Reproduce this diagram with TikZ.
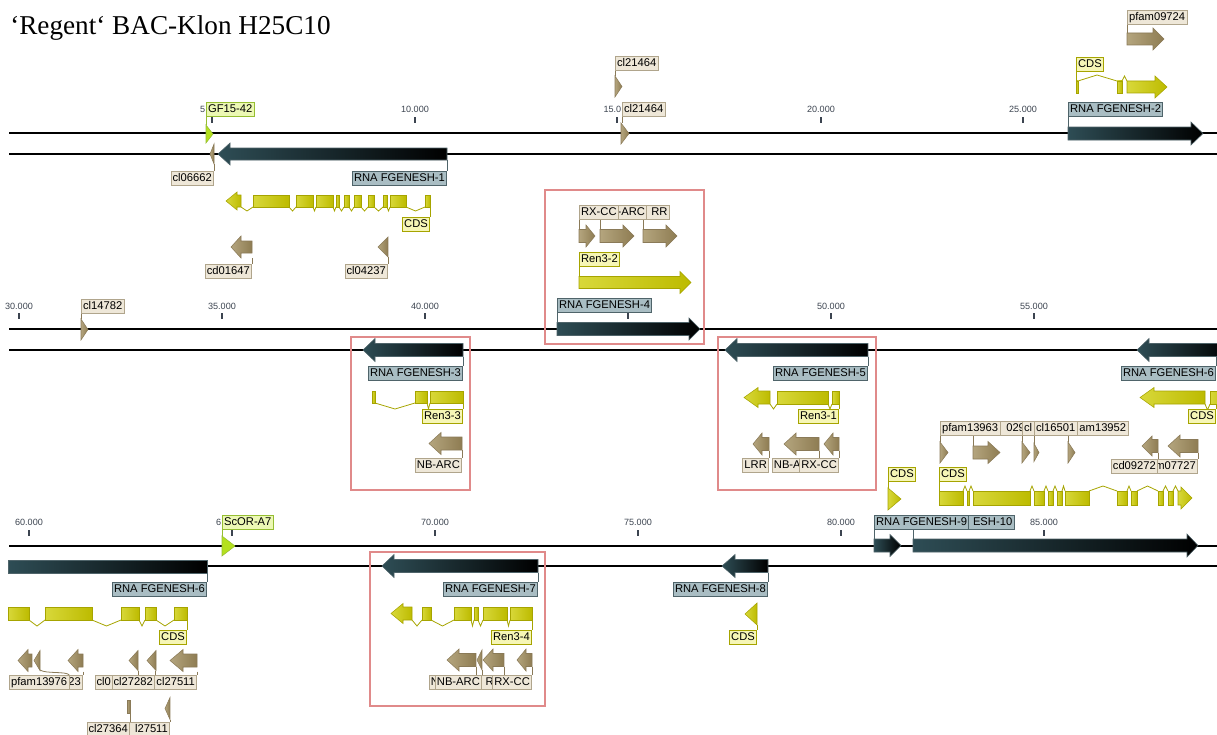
\documentclass[tikz,border=0pt]{standalone}
\usepackage{fontspec}
\setmainfont{Liberation Serif}
\setsansfont{Liberation Sans}

\definecolor{genedark}{HTML}{2E4D55}
\definecolor{genebox}{HTML}{A9BDC3}
\definecolor{geneedge}{HTML}{4F646A}
\definecolor{cdslight}{HTML}{D8D83A}
\definecolor{cdsdark}{HTML}{BDBB00}
\definecolor{cdsedge}{HTML}{A6A400}
\definecolor{cdsbox}{HTML}{F6F6B6}
\definecolor{domlight}{HTML}{B4A57E}
\definecolor{domdark}{HTML}{8E7C52}
\definecolor{domedge}{HTML}{8A7A58}
\definecolor{dombox}{HTML}{EEE7D8}
\definecolor{domboxedge}{HTML}{B0A58C}
\definecolor{primfill}{HTML}{B4E01E}
\definecolor{primbox}{HTML}{ECF8B4}
\definecolor{primedge}{HTML}{96BE32}
\definecolor{hilite}{HTML}{E08A8A}
\definecolor{ticktext}{HTML}{3C4450}

% arrows: style, x1, x2, yc, body half, head half, head length
\newcommand{\arrF}[7]{\path[#1] (#2,#4-#5) -- (#3-#7,#4-#5) -- (#3-#7,#4-#6) -- (#3,#4) -- (#3-#7,#4+#6) -- (#3-#7,#4+#5) -- (#2,#4+#5) -- cycle;}
\newcommand{\arrR}[7]{\path[#1] (#3,#4-#5) -- (#2+#7,#4-#5) -- (#2+#7,#4-#6) -- (#2,#4) -- (#2+#7,#4+#6) -- (#2+#7,#4+#5) -- (#3,#4+#5) -- cycle;}
\newcommand{\triF}[5]{\path[#1] (#2,#4-#5) -- (#3,#4) -- (#2,#4+#5) -- cycle;}
\newcommand{\triR}[5]{\path[#1] (#3,#4-#5) -- (#2,#4) -- (#3,#4+#5) -- cycle;}
% labels: kind, name, x, y of feature, y of label, text
\newcommand{\labR}[6]{\coordinate (#2f) at (#3,#4);
  \node[#1lab, anchor=north east] (#2) at (#3,#5) {#6};
  \draw[#1line] (#2f) -- (#2.north east);}
\newcommand{\labF}[6]{\coordinate (#2f) at (#3,#4);
  \node[#1lab, anchor=south west] (#2) at (#3,#5) {#6};
  \draw[#1line] (#2f) -- (#2.south west);}

\begin{document}
\begin{tikzpicture}[x=0.75pt,y=-0.75pt,
  gene/.style={left color=genedark, right color=black, draw=geneedge, line width=0.4pt},
  cds/.style={left color=cdslight, right color=cdsdark, draw=cdsedge, line width=0.4pt},
  dom/.style={left color=domlight, right color=domdark, draw=domedge, line width=0.4pt},
  prim/.style={fill=primfill, draw=primedge, line width=0.4pt},
  intron/.style={draw=cdsedge, line width=0.6pt},
  lab/.style={font=\sffamily\fontsize{8.4}{9}\selectfont, inner xsep=1.3pt, inner ysep=1.2pt,
    text height=6.4pt, text depth=1.7pt, line width=0.6pt},
  glab/.style={lab, fill=genebox, draw=geneedge},
  clab/.style={lab, fill=cdsbox, draw=cdsedge},
  dlab/.style={lab, fill=dombox, draw=domboxedge},
  plab/.style={lab, fill=primbox, draw=primedge},
  gline/.style={draw=geneedge, line width=0.6pt},
  cline/.style={draw=cdsedge, line width=0.6pt},
  dline/.style={draw=domedge, line width=0.6pt},
  pline/.style={draw=primedge, line width=0.6pt},
  strand/.style={line width=1.5pt},
  tick/.style={draw=ticktext, line width=0.8pt},
  ticklab/.style={font=\sffamily\fontsize{6.8}{7}\selectfont, text=ticktext, inner sep=0pt},
  hbox/.style={draw=hilite, line width=0.8pt}]
\useasboundingbox (0,0) rectangle (1217,735);
\clip (0,0) rectangle (1217,735);

\node[font=\fontsize{20.4}{24}\selectfont, anchor=base west, inner sep=0pt] (title) at (10,35) {‘Regent‘ BAC-Klon H25C10};

% strands and scale
\foreach \y in {133,154,329,350,546,566}
  \draw[strand] (9,\y) -- (1217,\y);
\foreach \x in {212,415,617,821,1023}
  \draw[tick] (\x,117) -- (\x,123);
\foreach \x in {19,222,425,628,831,1034}
  \draw[tick] (\x,313) -- (\x,319);
\foreach \x in {29,232,435,638,841,1044}
  \draw[tick] (\x,530) -- (\x,536);
\foreach \x/\t/\y in {415/10.000/109, 821/20.000/109, 1023/25.000/109,
    19/30.000/306, 222/35.000/306, 425/40.000/306, 831/50.000/306, 1034/55.000/306,
    29/60.000/522, 435/70.000/522, 638/75.000/522, 841/80.000/522, 1044/85.000/522}
  \node[ticklab] at (\x,\y) {\t};
\node[ticklab, anchor=east] (t5) at (205.5,109) {5};
\node[ticklab, anchor=east] (t15) at (621.5,109) {15.0};
\node[ticklab, anchor=east] (t65) at (221.5,522) {6};

% ---- row 1
\triF{prim}{206}{213}{134}{9}
\triR{dom}{210}{214}{154}{10}
\arrR{gene}{218}{447}{154}{6}{11}{12}
\arrR{cds}{226}{241}{201}{6}{9}{11}
\foreach \a/\b in {253/289, 296/313, 316/333, 336/339, 344/349, 354/361, 368/374, 383/387, 390/406, 425/430}
  \path[cds] (\a,195) rectangle (\b,207);
\foreach \a/\b in {241/253, 289/296, 313/316, 333/336, 339/344, 349/354, 361/368, 374/383, 387/390, 406/425}
  \draw[intron] (\a,207) -- ({(\a+\b)/2},211) -- (\b,207);
\arrR{dom}{231}{252}{247}{6}{11}{10}
\triR{dom}{378}{388}{247}{10}
\triF{dom}{615}{622}{86.5}{10.5}
\triF{dom}{621}{629}{133.5}{10.5}
\arrF{dom}{579}{595}{236}{6.5}{11}{9}
\arrF{dom}{600}{634}{236}{6.5}{11}{11}
\arrF{dom}{643}{677}{236}{6.5}{11}{11}
\arrF{cds}{579}{691}{282.5}{6}{11}{11}
\arrF{gene}{557}{700}{329}{6.5}{11}{11}
\arrF{gene}{1068}{1203}{133.5}{6.5}{11.5}{12}
\path[cds] (1076,81) rectangle (1078,93);
\draw[intron] (1078,81) -- (1097,75) -- (1117,81);
\path[cds] (1117,81) rectangle (1122,93);
\draw[intron] (1122,81) -- (1124.5,76) -- (1127,81);
\arrF{cds}{1127}{1167}{87}{6}{11}{12}
\arrF{dom}{1127}{1164}{39}{6}{11}{11}

\labF{p}{lgf}{206}{125}{117}{GF15-42}
\labR{d}{lcla}{214}{164}{171}{cl06662}
\labR{g}{lgA}{447}{160}{171}{RNA FGENESH-1}
\labR{c}{lcA}{430}{207}{217}{CDS}
\labR{d}{lcdA}{252}{258}{264}{cd01647}
\labR{d}{lclb}{388}{257}{264}{cl04237}
\labF{d}{lclc}{615}{76}{71}{cl21464}
\labF{d}{lcld}{622}{123}{117}{cl21464}
\labF{d}{llrA}{643}{229.5}{220}{\hphantom{L}RR}
\labF{d}{lnbA}{600}{229.5}{220}{\hphantom{NB}-ARC}
\labF{d}{lrxA}{579}{229.5}{220}{RX-CC}
\labF{c}{lrnB}{579}{276.5}{267}{Ren3-2}
\labF{g}{lgD}{557}{322.5}{313}{RNA FGENESH-4}
\labF{g}{lgB}{1068}{127}{117}{RNA FGENESH-2}
\labF{c}{lcB}{1076}{81}{72}{CDS}
\labF{d}{lpfA}{1127}{33}{25}{pfam09724}

% ---- row 2
\triF{dom}{81}{88}{329.5}{10.5}
\arrR{gene}{363}{463}{350}{6.5}{11.5}{12}
\path[cds] (372,391) rectangle (375,403);
\draw[intron] (375,403) -- (395,409) -- (415,403);
\path[cds] (415,391) rectangle (427,403);
\draw[intron] (427,403) -- (428.5,409) -- (430,403);
\path[cds] (430,391) rectangle (463,403);
\arrR{dom}{429}{462}{443.5}{6.5}{11}{12}
\arrR{gene}{725}{868}{350}{6.5}{11.5}{12}
\arrR{cds}{744}{770}{397.5}{6.5}{10}{14}
\draw[intron] (770,404) -- (773.5,409) -- (777,404);
\path[cds] (777,391) rectangle (828,404);
\draw[intron] (828,404) -- (830,409) -- (832,404);
\path[cds] (832,391) rectangle (839,404);
\arrR{dom}{753}{769}{444}{6.5}{11}{9}
\arrR{dom}{784}{819}{444}{6.5}{11}{12}
\arrR{dom}{824}{839}{444}{6.5}{11}{9}
\arrR{gene}{1137}{1230}{350}{6.5}{11.5}{12}
\arrR{cds}{1140}{1205}{397.5}{6.5}{10}{14}
\draw[intron] (1205,404) -- (1207.5,410) -- (1210,404);
\path[cds] (1210,391) rectangle (1230,404);
\triF{dom}{940}{948}{452.5}{10.5}
\arrF{dom}{973}{1000}{452.5}{6.5}{11}{12}
\triF{dom}{1022}{1030}{452.5}{10.5}
\triF{dom}{1034}{1039}{452.5}{9}
\triF{dom}{1068}{1075}{452.5}{10.5}
\arrR{dom}{1142}{1158}{446}{6.5}{10}{10}
\arrR{dom}{1168}{1198}{446}{6.5}{11}{12}
\triF{cds}{888}{901}{499}{11}
\path[cds] (967,491) rectangle (969,505);
\foreach \a/\b in {939/963, 973/1030, 1034/1044, 1048/1053, 1057/1062, 1065/1089, 1117/1127, 1131/1137, 1158/1163, 1168/1173}
  \path[cds] (\a,491) rectangle (\b,505);
\foreach \a/\b in {963/967, 969/973, 1030/1034, 1044/1048, 1053/1057, 1062/1065, 1089/1117, 1127/1131, 1137/1158, 1163/1168, 1173/1178}
  \draw[intron] (\a,491) -- ({(\a+\b)/2},486) -- (\b,491);
\arrF{cds}{1178}{1192}{498}{7}{11}{11}

\labF{d}{lcle}{81}{319}{314}{cl14782}
\labR{g}{lgC}{463}{356.5}{366}{RNA FGENESH-3}
\labR{c}{lrnC}{463}{403}{409}{Ren3-3}
\labR{d}{lnbB}{462}{450}{458}{NB-ARC}
\labR{g}{lgE}{868}{356.5}{366}{RNA FGENESH-5}
\labR{c}{lrnA}{839}{404}{409}{Ren3-1}
\labR{d}{llrB}{769}{450.5}{458}{LRR}
\labR{d}{lnbC}{819}{450.5}{458}{NB-A\hphantom{RC}}
\labR{d}{lrxB}{839}{450.5}{458}{RX-CC}
\labR{g}{lgF}{1216}{356.5}{366}{RNA FGENESH-6}
\labR{c}{lcF}{1216}{404}{409}{CDS}
\labF{d}{lpfE}{1068}{442}{436}{\hphantom{pf}am13952}
\labF{d}{lpfC}{973}{446}{436}{\hphantom{pfam0}029\hphantom{5}}
\labF{d}{lpfB}{940}{442}{436}{pfam13963}
\labF{d}{lclf}{1022}{442}{436}{cl\hphantom{00000}}
\labF{d}{lclg}{1034}{443.5}{436}{cl16501}
\labR{d}{lpfD}{1198}{452.5}{459}{\hphantom{pfa}m07727}
\labR{d}{lcdB}{1158}{452.5}{459}{cd09272}
\labF{c}{lcI}{888}{488}{482}{CDS}
\labF{c}{lcJ}{939}{491}{482}{CDS}

% ---- row 3
\triF{prim}{222}{235}{546}{10}
\path[gene] (8,560) rectangle (207,573);
\foreach \a/\b in {8/29, 45/92, 121/139, 145/156, 174/187}
  \path[cds] (\a,607) rectangle (\b,620);
\foreach \a/\b in {29/45, 92/121, 139/145, 156/174}
  \draw[intron] (\a,620) -- ({(\a+\b)/2},626) -- (\b,620);
\arrR{dom}{18}{32}{660.5}{6.5}{11}{10}
\triR{dom}{34}{40}{660.5}{10}
\arrR{dom}{68}{83}{660.5}{6.5}{11}{10}
\triR{dom}{129}{138}{660.5}{10}
\triR{dom}{147}{156}{660.5}{10}
\arrR{dom}{170}{197}{660.5}{6.5}{11}{13}
\path[dom] (127,700) rectangle (130,713);
\triR{dom}{165}{170}{708.5}{11}
\arrR{gene}{382}{538}{566}{6.5}{11.5}{12}
\arrR{cds}{391}{412}{613.5}{6.5}{10}{12}
\foreach \a/\b in {422/431, 454/471, 474/478, 483/507, 510/532}
  \path[cds] (\a,607) rectangle (\b,620);
\foreach \a/\b in {412/422, 431/454, 471/474, 478/483, 507/510}
  \draw[intron] (\a,620) -- ({(\a+\b)/2},626) -- (\b,620);
\arrR{dom}{447}{476}{660}{6.5}{11}{12}
\triR{dom}{477}{482}{660}{10}
\arrR{dom}{483}{504}{660}{6.5}{11}{10}
\arrR{dom}{517}{532}{660}{6.5}{11}{9}
\arrR{gene}{722}{768}{566}{6.5}{11.5}{13}
\triR{cds}{745}{757}{614}{11}
\arrF{gene}{874}{901}{545.5}{6.5}{11}{11}
\arrF{gene}{913}{1198}{545.5}{6.5}{11.5}{11}

\labF{p}{lsc}{222}{536}{530}{ScOR-A7}
\labR{g}{lgG}{207}{573}{582}{RNA FGENESH-6}
\labR{c}{lcG}{187}{620}{630}{CDS}
\labR{d}{lpfG}{83}{671.5}{675}{\hphantom{pfam000}23}
\coordinate (lpfFf) at (40,670);
\node[dlab, anchor=north west] (lpfF) at (9,675) {pfam13976};
\draw[dline] (lpfFf) .. controls (46,674) and (66,671) .. (lpfF.north east);
\labR{d}{lclh}{138}{670.5}{675}{cl0\hphantom{4444}}
\labR{d}{lcli}{155}{670.5}{675}{cl27282}
\labR{d}{lclj}{197}{671.5}{675}{cl27511}
\labR{d}{lclk}{170}{719.5}{722}{\hphantom{c}l27511}
\labR{d}{lcll}{130}{713}{722}{cl27364}
\labR{g}{lgH}{538}{572.5}{582}{RNA FGENESH-7}
\labR{c}{lrnD}{532}{620}{630}{Ren3-4}
\labR{d}{lnbD}{476}{666.5}{675}{N\hphantom{B-ARC}}
\labR{d}{lnbF}{504}{666.5}{675}{\hphantom{NB-A}R\hphantom{C}}
\labR{d}{lnbE}{482}{670}{675}{NB-ARC}
\labR{d}{lrxC}{532}{666.5}{675}{RX-CC}
\labR{g}{lgI}{768}{572.5}{582}{RNA FGENESH-8}
\labR{c}{lcH}{757}{625}{630}{CDS}
\labF{g}{lgK}{913}{539}{530}{\hphantom{RNA FGEN}ESH-10}
\labF{g}{lgJ}{874}{539}{530}{RNA FGENESH-9}

% highlighted loci
\draw[hbox] (545,190) rectangle (704,344);
\draw[hbox] (351,337) rectangle (470,490);
\draw[hbox] (718,337) rectangle (876,490);
\draw[hbox] (370,552) rectangle (545,706);
\end{tikzpicture}
\end{document}
